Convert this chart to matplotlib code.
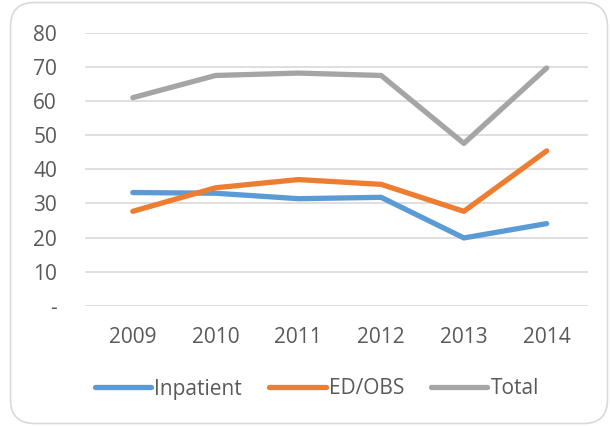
import matplotlib
matplotlib.use("Agg")
import matplotlib.pyplot as plt
from matplotlib.patches import FancyBboxPatch
from matplotlib.transforms import IdentityTransform

years = ["2009", "2010", "2011", "2012", "2013", "2014"]
inpatient = [33.2, 33.0, 31.4, 31.8, 19.9, 24.1]
ed_obs = [27.7, 34.6, 37.0, 35.6, 27.7, 45.4]
total = [61.0, 67.5, 68.2, 67.5, 47.6, 69.7]
y_ticks = [0, 10, 20, 30, 40, 50, 60, 70, 80]
y_labels = ["-", "10", "20", "30", "40", "50", "60", "70", "80"]

plt.rcParams['font.family'] = ['Open Sans', 'DejaVu Sans']
txt = "#595959"

fig = plt.figure(figsize=(6.10, 4.26), dpi=100)
border = FancyBboxPatch((10.5, 2.5), 597, 421, boxstyle="round,pad=0,rounding_size=24",
                        transform=IdentityTransform(), facecolor="white", edgecolor="#D9D9D9",
                        linewidth=1.2, zorder=-10)
fig.patches.append(border)

ax = fig.add_axes([0.139, 0.282, 0.825, 0.641])
x = list(range(len(years)))
kw = dict(linewidth=3.8, solid_capstyle="round", solid_joinstyle="round")
ax.plot(x, inpatient, color="#5B9BD5", label="Inpatient", **kw)
ax.plot(x, ed_obs, color="#ED7D31", label="ED/OBS", **kw)
ax.plot(x, total, color="#A5A5A5", label="Total", **kw)

ax.set_ylim(0, 80)
ax.set_xlim(-0.58, 5.5)
ax.set_yticks(y_ticks)
ax.set_yticklabels(y_labels)
ax.set_xticks(x)
ax.set_xticklabels(years)
ax.grid(axis="y", color="#D9D9D9", linewidth=1.2)
ax.set_axisbelow(True)
for s in ax.spines.values():
    s.set_visible(False)
ax.tick_params(axis="both", length=0, labelsize=15, colors=txt)
ax.tick_params(axis="y", pad=20)
ax.tick_params(axis="x", pad=15)
ax.patch.set_alpha(0)

leg = fig.legend(loc="center", bbox_to_anchor=(317 / 610, 1 - 389 / 426), ncol=3, frameon=False,
                 fontsize=15, handlelength=2.7, handletextpad=0.15, columnspacing=1.3)
for t in leg.get_texts():
    t.set_color(txt)

fig.savefig("out.png", dpi=100)
